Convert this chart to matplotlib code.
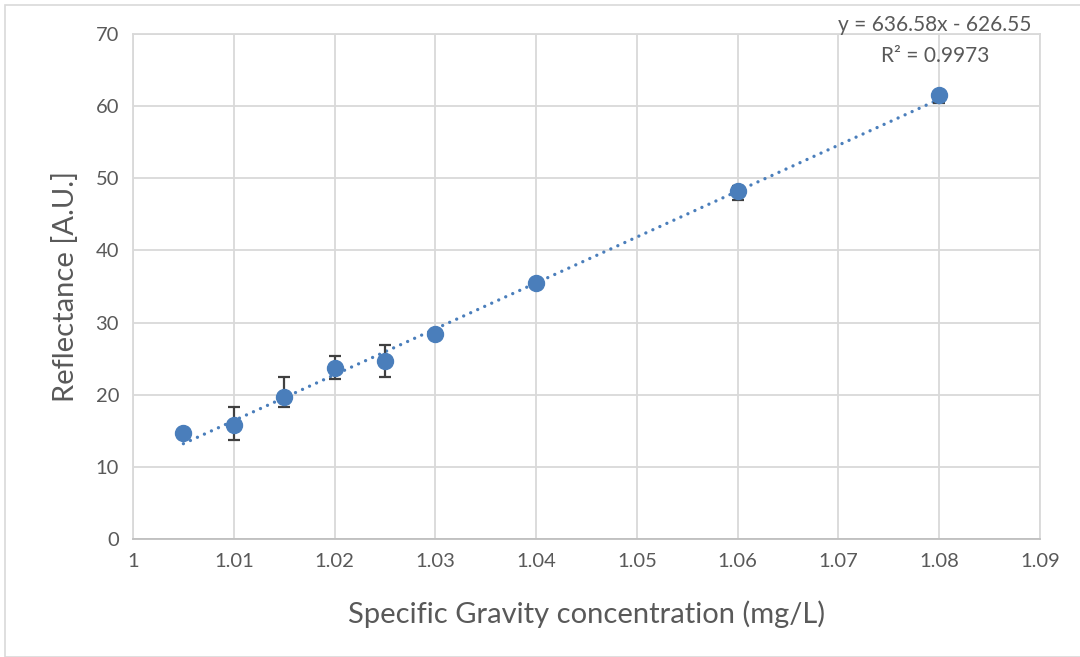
import numpy as np
import matplotlib.pyplot as plt
from matplotlib.patches import Rectangle

# Reflectance vs specific gravity, with a linear trendline
sg = [1.005, 1.01, 1.015, 1.02, 1.025, 1.03, 1.04, 1.06, 1.08]
reflectance = [14.7, 15.8, 19.7, 23.7, 24.7, 28.4, 35.5, 48.2, 61.5]
err_low = [0.2, 2.1, 1.4, 1.5, 2.3, 0.2, 0.2, 1.2, 1.1]
err_high = [0.2, 2.5, 2.8, 1.7, 2.2, 0.2, 0.2, 0.7, 0.5]

slope, intercept = 636.58, -626.55
r2 = 0.9973

plt.rcParams['font.family'] = ['Lato', 'DejaVu Sans']
blue = "#4a7ebb"
grid_col = "#d9d9d9"
text_col = "#595959"

fig = plt.figure(figsize=(10.8, 6.57), dpi=100)
ax = fig.add_axes([133 / 1080, 1 - 539 / 657, (1040 - 133) / 1080, (539 - 34) / 657])

# outer chart border
fig.patches.append(Rectangle((5 / 1080, 0.0), 1.0, 1 - 5 / 657, transform=fig.transFigure,
                             fill=False, edgecolor=grid_col, linewidth=1.2))

# trendline (round dots)
xt = np.array([sg[0], sg[-1]])
ax.plot(xt, slope * xt + intercept, linestyle=(0, (0.01, 2.3)), color=blue,
        linewidth=2.4, dash_capstyle='round', zorder=2)

ax.errorbar(sg, reflectance, yerr=[err_low, err_high], fmt='o', color=blue,
            markersize=11.5, ecolor="#404040", elinewidth=1.6, capsize=4.4,
            capthick=1.6, zorder=3)

ax.set_xlim(1, 1.09)
ax.set_ylim(0, 70)
ax.set_xticks(np.arange(1, 1.0901, 0.01))
ax.set_xticklabels(['1', '1.01', '1.02', '1.03', '1.04', '1.05', '1.06', '1.07', '1.08', '1.09'])
ax.set_yticks(range(0, 71, 10))
ax.grid(True, color=grid_col, linewidth=1.3)
ax.set_axisbelow(True)
for s in ax.spines.values():
    s.set_color(grid_col)
    s.set_linewidth(1.3)
ax.spines['bottom'].set_color("#bfbfbf")
ax.tick_params(length=0, labelsize=14.5, colors=text_col, pad=10)

ax.set_xlabel("Specific Gravity concentration (mg/L)", fontsize=21, color=text_col, labelpad=22)
ax.set_ylabel("Reflectance [A.U.]", fontsize=21, color=text_col, labelpad=12)

fig.text(935 / 1080, 1 - 25 / 657, f"y = {slope}x - {abs(intercept)}", ha='center', va='center',
         fontsize=15, color=text_col)
fig.text(935 / 1080, 1 - 56 / 657, f"R² = {r2}", ha='center', va='center',
         fontsize=15, color=text_col)

fig.savefig("out.png", dpi=100)
